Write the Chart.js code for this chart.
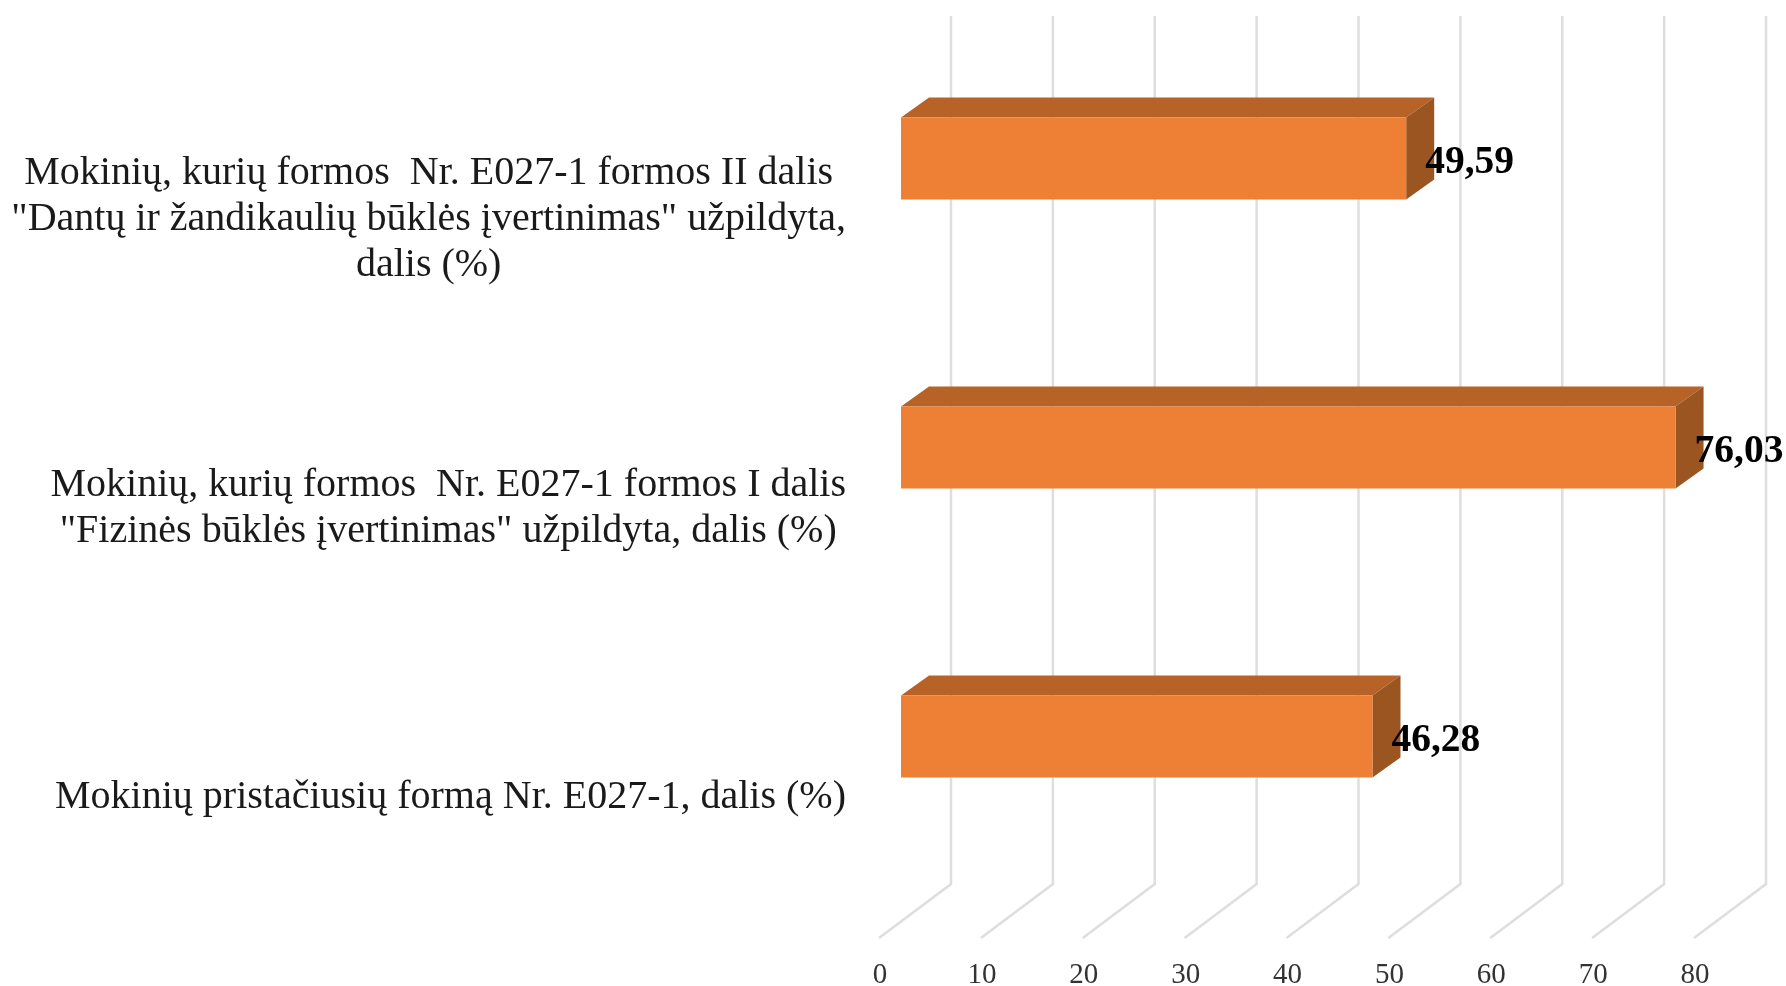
<!DOCTYPE html>
<html>
<head>
<meta charset="utf-8">
<title>E027-1</title>
<style>
  html, body { margin: 0; padding: 0; background: #fff; }
  canvas { display: block; }
</style>
<script src="https://cdn.jsdelivr.net/npm/chart.js@4/dist/chart.umd.min.js"></script>
</head>
<body>
<canvas id="chart" width="1786" height="986"></canvas>
<script>
const categories = [
  ['Mokinių, kurių formos  Nr. E027-1 formos II dalis', '"Dantų ir žandikaulių būklės įvertinimas" užpildyta,', 'dalis (%)'],
  ['Mokinių, kurių formos  Nr. E027-1 formos I dalis', '"Fizinės būklės įvertinimas" užpildyta, dalis (%)'],
  ['Mokinių pristačiusių formą Nr. E027-1, dalis (%)'],
];
const values = [49.59, 76.03, 46.28];
const xTicks = [0, 10, 20, 30, 40, 50, 60, 70, 80];

const FRONT_COLOR = '#ED8035';
const TOP_COLOR = '#B76328';
const SIDE_COLOR = '#9B5521';
const GRID_COLOR = '#DEDEDE';
const FONT = '"Liberation Serif", serif';

// fake 3D, offsets in px
const BAR_DX = 28;
const BAR_DY = 20;
const LABEL_RIGHT = 846;
const LABEL_SHIFT = 61;
const LINE_HEIGHT = 46;

const depthPlugin = {
  id: 'depth',
  beforeDatasetsDraw(chart) {
    const { ctx, scales: { x } } = chart;
    // walls of the 3D box
    ctx.save();
    ctx.strokeStyle = GRID_COLOR;
    ctx.lineWidth = 2.5;
    x.ticks.forEach((tick) => {
      const px = x.getPixelForValue(tick.value);
      ctx.beginPath();
      ctx.moveTo(px - 22, 938);
      ctx.lineTo(px + 50, 884);
      ctx.lineTo(px + 50, 16);
      ctx.stroke();
    });
    // top and side faces
    chart.getDatasetMeta(0).data.forEach((bar) => {
      const left = bar.base;
      const right = bar.x;
      const top = bar.y - bar.height / 2;
      const bottom = bar.y + bar.height / 2;
      ctx.fillStyle = TOP_COLOR;
      ctx.beginPath();
      ctx.moveTo(left, top);
      ctx.lineTo(left + BAR_DX, top - BAR_DY);
      ctx.lineTo(right + BAR_DX, top - BAR_DY);
      ctx.lineTo(right, top);
      ctx.closePath();
      ctx.fill();
      ctx.fillStyle = SIDE_COLOR;
      ctx.beginPath();
      ctx.moveTo(right, top);
      ctx.lineTo(right + BAR_DX, top - BAR_DY);
      ctx.lineTo(right + BAR_DX, bottom - BAR_DY);
      ctx.lineTo(right, bottom);
      ctx.closePath();
      ctx.fill();
    });
    ctx.restore();
  },
  afterDatasetsDraw(chart) {
    const { ctx, scales: { y } } = chart;
    ctx.save();
    // value labels
    ctx.fillStyle = '#000';
    ctx.font = 'bold 39.5px ' + FONT;
    ctx.textAlign = 'left';
    ctx.textBaseline = 'middle';
    chart.getDatasetMeta(0).data.forEach((bar, i) => {
      ctx.fillText(values[i].toFixed(2).replace('.', ','), bar.x + 19, bar.y + 4);
    });
    // category labels: block sits right, lines centred inside it
    ctx.fillStyle = '#1A1A1A';
    ctx.font = '40px ' + FONT;
    ctx.textAlign = 'center';
    categories.forEach((lines, i) => {
      const widest = Math.max(...lines.map((l) => ctx.measureText(l).width));
      const cx = LABEL_RIGHT - widest / 2;
      const cy = y.getPixelForTick(i) + LABEL_SHIFT;
      lines.forEach((line, j) => {
        ctx.fillText(line, cx, cy + (j - (lines.length - 1) / 2) * LINE_HEIGHT);
      });
    });
    ctx.restore();
  },
};

new Chart(document.getElementById('chart'), {
  type: 'bar',
  data: {
    labels: categories,
    datasets: [
      {
        data: values,
        backgroundColor: FRONT_COLOR,
        borderWidth: 0,
        categoryPercentage: 1,
        barPercentage: 82 / 289.5,
      },
    ],
  },
  options: {
    indexAxis: 'y',
    responsive: false,
    animation: false,
    devicePixelRatio: 1,
    layout: { padding: { top: 14, right: 70, bottom: 0, left: 0 } },
    plugins: {
      legend: { display: false },
      tooltip: { enabled: false },
    },
    scales: {
      x: {
        min: xTicks[0],
        max: xTicks[xTicks.length - 1],
        grid: { display: false },
        border: { display: false },
        afterFit: (scale) => {
          scale.height = 105;
          scale.paddingLeft = 0;
          scale.paddingRight = 0;
        },
        afterBuildTicks: (scale) => { scale.ticks = xTicks.map((value) => ({ value })); },
        ticks: {
          color: '#333',
          font: { family: FONT, size: 29 },
          padding: 69,
          labelOffset: -21,
          maxRotation: 0,
        },
      },
      y: {
        grid: { display: false },
        border: { display: false },
        ticks: { display: false },
        afterFit: (scale) => { scale.width = 901; },
      },
    },
  },
  plugins: [depthPlugin],
});
</script>
</body>
</html>
